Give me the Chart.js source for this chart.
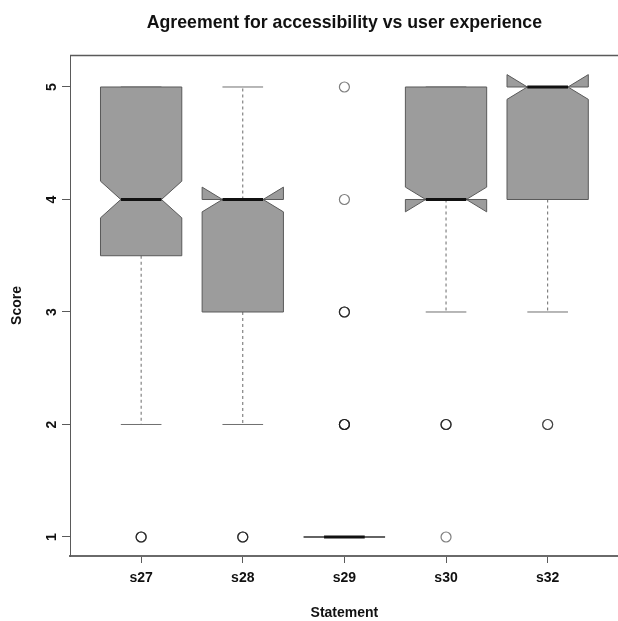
<!DOCTYPE html>
<html>
<head>
<meta charset="utf-8">
<title>Agreement for accessibility vs user experience</title>
<script src="https://cdn.jsdelivr.net/npm/chart.js@4.4.1/dist/chart.umd.min.js"></script>
<style>
  html, body { margin: 0; padding: 0; background: #ffffff; overflow: hidden; }
  #wrap { width: 618px; height: 621px; overflow: hidden; }
  canvas { display: block; }
</style>
</head>
<body>
<div id="wrap"><canvas id="chart" width="625" height="621"></canvas></div>
<script>
// Statements and their five-number summaries (Likert scores 1-5)
const statements   = ['s27', 's28', 's29', 's30', 's32'];
const lowerWhisker = [2, 2, 1, 3, 3];
const lowerHinge   = [3.5, 3, 1, 4, 4];
const medians      = [4, 4, 1, 4, 5];
const upperHinge   = [5, 4, 1, 5, 5];
const upperWhisker = [5, 5, 1, 5, 5];
// Notch extents around each median
const notchLow     = [3.837, 3.89, 1, 3.89, 4.89];
const notchHigh    = [4.163, 4.11, 1, 4.11, 5.11];
// Individual outlying responses (repeats overlap and print darker)
const outliers = [
  [1, 1, 1],
  [1, 1, 1],
  [5, 4, 3, 3, 3, 2, 2, 2, 2],
  [2, 2, 2, 1],
  [2, 2]
];
const scoreTicks = [1, 2, 3, 4, 5];

const FONT = '"Liberation Sans", Arial, Helvetica, sans-serif';
const BOX_HALF = 0.4;     // half box width, in category units
const NOTCH_HALF = 0.2;   // half width at the notch waist
const CAP_HALF = 0.2;     // half width of whisker staples

const outlierPoints = [];
outliers.forEach((vals, i) => vals.forEach(v => outlierPoints.push({ x: i + 1, y: v })));

// Draws the notched boxes, whiskers and staples on the chart's scales
const boxPlot = {
  id: 'boxPlot',
  beforeDatasetsDraw(chart) {
    const { ctx, scales: { x, y } } = chart;
    statements.forEach((name, i) => {
      const c = i + 1;
      const px = v => x.getPixelForValue(v);
      const xl = px(c - BOX_HALF), xr = px(c + BOX_HALF);
      const xml = px(c - NOTCH_HALF), xmr = px(c + NOTCH_HALF);
      const xc = px(c);
      const yq1 = y.getPixelForValue(lowerHinge[i]);
      const yq3 = y.getPixelForValue(upperHinge[i]);
      const ymed = y.getPixelForValue(medians[i]);
      const ynl = y.getPixelForValue(notchLow[i]);
      const ynh = y.getPixelForValue(notchHigh[i]);
      const ywl = y.getPixelForValue(lowerWhisker[i]);
      const ywh = y.getPixelForValue(upperWhisker[i]);

      ctx.save();
      // whiskers
      ctx.strokeStyle = '#6a6a6a';
      ctx.lineWidth = 1;
      ctx.setLineDash([3, 3]);
      ctx.beginPath();
      if (ywl !== yq1) { ctx.moveTo(xc, yq1); ctx.lineTo(xc, ywl); }
      if (ywh !== yq3) { ctx.moveTo(xc, yq3); ctx.lineTo(xc, ywh); }
      ctx.stroke();
      ctx.setLineDash([]);
      // staples
      ctx.strokeStyle = '#707070';
      ctx.beginPath();
      ctx.moveTo(px(c - CAP_HALF), ywl); ctx.lineTo(px(c + CAP_HALF), ywl);
      ctx.moveTo(px(c - CAP_HALF), ywh); ctx.lineTo(px(c + CAP_HALF), ywh);
      ctx.stroke();

      // notched box
      ctx.beginPath();
      ctx.moveTo(xl, yq1);
      ctx.lineTo(xl, ynl);
      ctx.lineTo(xml, ymed);
      ctx.lineTo(xl, ynh);
      ctx.lineTo(xl, yq3);
      ctx.lineTo(xr, yq3);
      ctx.lineTo(xr, ynh);
      ctx.lineTo(xmr, ymed);
      ctx.lineTo(xr, ynl);
      ctx.lineTo(xr, yq1);
      ctx.closePath();
      ctx.fillStyle = '#9c9c9c';
      ctx.fill();
      ctx.strokeStyle = '#5a5a5a';
      ctx.lineWidth = 1;
      ctx.lineJoin = 'miter';
      ctx.stroke();

      // median
      ctx.strokeStyle = '#111111';
      ctx.lineWidth = 3;
      ctx.lineCap = 'butt';
      ctx.beginPath();
      ctx.moveTo(xml, ymed);
      ctx.lineTo(xmr, ymed);
      ctx.stroke();
      ctx.restore();
    });
  }
};

// Frame, titles and tick labels
const frameAndText = {
  id: 'frameAndText',
  afterDraw(chart) {
    const { ctx, chartArea: a, scales: { x, y } } = chart;
    ctx.save();
    ctx.strokeStyle = '#5a5a5a';
    ctx.lineWidth = 1.3;
    ctx.beginPath();
    ctx.moveTo(a.left, a.top + 0.5);
    ctx.lineTo(a.right, a.top + 0.5);
    ctx.lineTo(a.right, a.bottom);
    ctx.stroke();

    const cx = (a.left + a.right) / 2;
    const cy = (a.top + a.bottom) / 2;
    ctx.fillStyle = '#111111';

    // main title
    ctx.font = 'bold 17.7px ' + FONT;
    ctx.textAlign = 'center';
    ctx.textBaseline = 'alphabetic';
    ctx.fillText('Agreement for accessibility vs user experience', cx, 27.5);

    // x tick labels
    ctx.font = 'bold 14px ' + FONT;
    x.ticks.forEach(t => {
      const label = statements[t.value - 1];
      if (label) ctx.fillText(label, x.getPixelForValue(t.value), 582);
    });
    // x axis title
    ctx.fillText('Statement', cx, 617);

    // y tick labels, parallel to the axis
    y.ticks.forEach(t => {
      ctx.save();
      ctx.translate(56, y.getPixelForValue(t.value));
      ctx.rotate(-Math.PI / 2);
      ctx.fillText(String(t.value), 0, 0);
      ctx.restore();
    });
    // y axis title
    ctx.save();
    ctx.translate(20.5, cy);
    ctx.rotate(-Math.PI / 2);
    ctx.fillText('Score', 0, 0);
    ctx.restore();
    ctx.restore();
  }
};

new Chart(document.getElementById('chart'), {
  type: 'scatter',
  data: {
    datasets: [{
      label: 'outliers',
      data: outlierPoints,
      pointStyle: 'circle',
      pointRadius: 5,
      pointBorderWidth: 1.2,
      pointBorderColor: 'rgba(20,20,20,0.55)',
      pointBackgroundColor: 'rgba(0,0,0,0)',
      showLine: false
    }]
  },
  options: {
    responsive: false,
    animation: false,
    events: [],
    layout: { padding: { top: 55, right: 2, left: 0, bottom: 0 } },
    plugins: {
      legend: { display: false },
      tooltip: { enabled: false },
      title: { display: false }
    },
    scales: {
      x: {
        type: 'linear',
        min: 0.3,
        max: 5.7,
        afterBuildTicks: s => { s.ticks = statements.map((_, i) => ({ value: i + 1 })); },
        afterFit: s => { s.height = 65; },
        ticks: { display: false },
        grid: { drawOnChartArea: false, drawTicks: true, tickLength: 7, color: '#5a5a5a', lineWidth: 1 },
        border: { display: true, color: '#6a6a6a', width: 2 }
      },
      y: {
        type: 'linear',
        min: 0.8311,
        max: 5.2844,
        afterBuildTicks: s => { s.ticks = scoreTicks.map(v => ({ value: v })); },
        afterFit: s => { s.width = 70; },
        ticks: { display: false },
        grid: { drawOnChartArea: false, drawTicks: true, tickLength: 8, color: '#5a5a5a', lineWidth: 1 },
        border: { display: true, color: '#5a5a5a', width: 1 }
      }
    }
  },
  plugins: [boxPlot, frameAndText]
});
</script>
</body>
</html>
